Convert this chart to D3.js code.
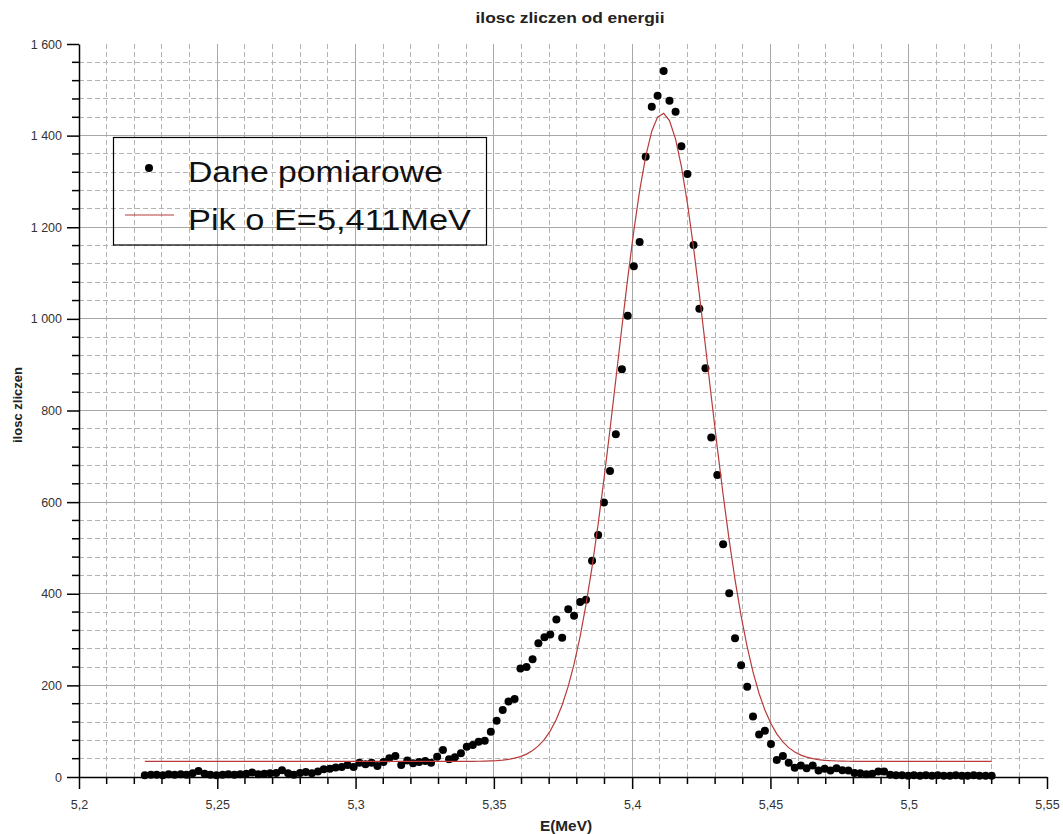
<!DOCTYPE html>
<html>
<head>
<meta charset="utf-8">
<script src="https://cdn.jsdelivr.net/npm/d3@7"></script>
<style>
  body { margin: 0; background: #fff; }
  svg { display: block; }
  text { font-family: "Liberation Sans", Arial, sans-serif; }
</style>
</head>
<body>
<svg id="chart" width="1063" height="834"></svg>
<script>
// Channel energies (MeV) of the measured spectrum
const energies = [
  5.2238, 5.2260, 5.2281, 5.2303, 5.2324, 5.2346, 5.2368, 5.2389, 5.2411, 5.2432,
  5.2454, 5.2475, 5.2497, 5.2519, 5.2540, 5.2562, 5.2583, 5.2605, 5.2626, 5.2648,
  5.2670, 5.2691, 5.2713, 5.2734, 5.2756, 5.2777, 5.2799, 5.2820, 5.2842, 5.2864,
  5.2885, 5.2907, 5.2928, 5.2950, 5.2971, 5.2993, 5.3014, 5.3036, 5.3058, 5.3079,
  5.3101, 5.3122, 5.3144, 5.3165, 5.3187, 5.3208, 5.3230, 5.3252, 5.3273, 5.3295,
  5.3316, 5.3338, 5.3359, 5.3381, 5.3402, 5.3424, 5.3445, 5.3467, 5.3489, 5.3510,
  5.3532, 5.3553, 5.3575, 5.3596, 5.3618, 5.3640, 5.3661, 5.3683, 5.3704, 5.3726,
  5.3747, 5.3769, 5.3790, 5.3812, 5.3833, 5.3855, 5.3877, 5.3898, 5.3920, 5.3941,
  5.3963, 5.3984, 5.4006, 5.4027, 5.4049, 5.4071, 5.4092, 5.4114, 5.4135, 5.4157,
  5.4178, 5.4200, 5.4222, 5.4243, 5.4265, 5.4286, 5.4308, 5.4329, 5.4351, 5.4372,
  5.4394, 5.4416, 5.4437, 5.4459, 5.4480, 5.4502, 5.4523, 5.4545, 5.4566, 5.4588,
  5.4610, 5.4631, 5.4653, 5.4674, 5.4696, 5.4717, 5.4739, 5.4760, 5.4782, 5.4804,
  5.4825, 5.4847, 5.4868, 5.4890, 5.4911, 5.4933, 5.4954, 5.4976, 5.4998, 5.5019,
  5.5041, 5.5062, 5.5084, 5.5105, 5.5127, 5.5149, 5.5170, 5.5192, 5.5213, 5.5235,
  5.5256, 5.5278, 5.5300
];

// Counts recorded in each channel
const counts = [
  4, 5, 5, 4, 6, 5, 6, 5, 8, 13,
  7, 5, 4, 5, 6, 5, 6, 7, 10, 6,
  7, 8, 9, 15, 8, 5, 9, 11, 8, 12,
  17, 18, 21, 22, 26, 22, 31, 28, 31, 24,
  33, 41, 46, 26, 36, 30, 33, 35, 31, 44,
  59, 39, 43, 52, 66, 70, 77, 79, 99, 123,
  146, 165, 170, 237, 240, 257, 292, 305, 311, 344,
  304, 366, 352, 382, 387, 472, 528, 599, 668, 748,
  890, 1007, 1115, 1168, 1354, 1463, 1487, 1541, 1476, 1452,
  1377, 1316, 1161, 1022, 892, 741, 659, 508, 401, 303,
  244, 197, 132, 93, 101, 72, 37, 46, 31, 20,
  25, 19, 25, 14, 18, 14, 19, 15, 14, 9,
  8, 6, 7, 12, 12, 5, 4, 4, 3, 4,
  3, 4, 3, 4, 3, 3, 4, 3, 3, 4,
  3, 3, 3
];

// Gaussian peak fit: baseline + height * exp(-(E - center)^2 / (2 sigma^2))
const fitCenter = 5.411;
const fitSigma = 0.01643;
const fitHeight = 1415;
const fitBaseline = 34;

const xTickValues = [5.2, 5.25, 5.3, 5.35, 5.4, 5.45, 5.5, 5.55];
const yTickValues = [0, 200, 400, 600, 800, 1000, 1200, 1400, 1600];

const titleText = "ilosc zliczen od energii";
const xLabelText = "E(MeV)";
const yLabelText = "ilosc zliczen";
const legendLabels = ["Dane pomiarowe", "Pik o E=5,411MeV"];

const svg = d3.select("#chart");
const plot = { left: 79, right: 1047, top: 44, bottom: 777 };

const x = d3.scaleLinear().domain([5.2, 5.55]).range([plot.left, plot.right]);
const y = d3.scaleLinear().domain([0, 1600]).range([plot.bottom, plot.top]);

const locale = d3.formatLocale({ decimal: ",", thousands: " ", grouping: [3], currency: ["", ""] });
const fmtX = locale.format(".2~f");
const fmtY = locale.format(",d");

const xMinor = d3.range(5.2, 5.5501, 0.01).filter(v => !xTickValues.some(t => Math.abs(t - v) < 1e-6));
const yMinor = d3.range(0, 1600.1, 40).filter(v => v % 200 !== 0);

// Grid
const grid = svg.append("g");
grid.selectAll(".vminor").data(xMinor).join("line")
  .attr("x1", d => x(d)).attr("x2", d => x(d))
  .attr("y1", plot.top).attr("y2", plot.bottom)
  .attr("stroke", "#b4b4b4").attr("stroke-width", 1).attr("stroke-dasharray", "5,3")
  .attr("shape-rendering", "crispEdges");
grid.selectAll(".hminor").data(yMinor).join("line")
  .attr("x1", plot.left).attr("x2", plot.right)
  .attr("y1", d => y(d)).attr("y2", d => y(d))
  .attr("stroke", "#b4b4b4").attr("stroke-width", 1).attr("stroke-dasharray", "5,3")
  .attr("shape-rendering", "crispEdges");
grid.selectAll(".vmajor").data(xTickValues.slice(1, -1)).join("line")
  .attr("x1", d => x(d)).attr("x2", d => x(d))
  .attr("y1", plot.top).attr("y2", plot.bottom)
  .attr("stroke", "#a8a8a8").attr("stroke-width", 1)
  .attr("shape-rendering", "crispEdges");
grid.selectAll(".hmajor").data(yTickValues.slice(1, -1)).join("line")
  .attr("x1", plot.left).attr("x2", plot.right)
  .attr("y1", d => y(d)).attr("y2", d => y(d))
  .attr("stroke", "#a8a8a8").attr("stroke-width", 1)
  .attr("shape-rendering", "crispEdges");

// Axes
const xAxis = d3.axisBottom(x).tickValues(xTickValues).tickFormat(fmtX).tickSize(12).tickSizeOuter(0);
const yAxis = d3.axisLeft(y).tickValues(yTickValues).tickFormat(fmtY).tickSize(12).tickSizeOuter(0);

const gx = svg.append("g").attr("transform", `translate(0,${plot.bottom})`).call(xAxis);
const gy = svg.append("g").attr("transform", `translate(${plot.left},0)`).call(yAxis);

[gx, gy].forEach(g => {
  g.select(".domain").attr("stroke", "#000").attr("stroke-width", 1.5);
  g.selectAll(".tick line").attr("stroke", "#000").attr("stroke-width", 1.5);
  g.selectAll(".tick text")
    .attr("font-family", "'Liberation Sans', Arial, sans-serif")
    .attr("font-size", 12.5).attr("fill", "#333");
});
gx.selectAll(".tick text").attr("dy", 0).attr("y", 32);
gy.selectAll(".tick text").attr("x", -17);

// Minor ticks
svg.append("g").selectAll("line").data(xMinor).join("line")
  .attr("x1", d => x(d)).attr("x2", d => x(d))
  .attr("y1", plot.bottom).attr("y2", plot.bottom + 7)
  .attr("stroke", "#000").attr("stroke-width", 1.5);
svg.append("g").selectAll("line").data(yMinor).join("line")
  .attr("x1", plot.left - 7).attr("x2", plot.left)
  .attr("y1", d => y(d)).attr("y2", d => y(d))
  .attr("stroke", "#000").attr("stroke-width", 1.5);

// Measured points
const points = energies.map((e, i) => ({ e, c: counts[i] }));
svg.append("g").selectAll("circle").data(points).join("circle")
  .attr("cx", d => x(d.e)).attr("cy", d => y(d.c)).attr("r", 4)
  .attr("fill", "#000");

// Fitted peak
const fit = e => fitBaseline + fitHeight * Math.exp(-((e - fitCenter) ** 2) / (2 * fitSigma * fitSigma));
const line = d3.line().x(d => x(d)).y(d => y(fit(d)));
svg.append("path").datum(energies)
  .attr("d", line).attr("fill", "none")
  .attr("stroke", "#b83a3a").attr("stroke-width", 1.2);

// Title and axis labels
svg.append("text").attr("x", 570).attr("y", 23).attr("text-anchor", "middle")
  .attr("font-size", 15).attr("font-weight", "bold").attr("fill", "#222")
  .attr("textLength", 189).attr("lengthAdjust", "spacingAndGlyphs")
  .text(titleText);
svg.append("text").attr("x", 566).attr("y", 831).attr("text-anchor", "middle")
  .attr("font-size", 14).attr("font-weight", "bold").attr("fill", "#222")
  .attr("textLength", 52).attr("lengthAdjust", "spacingAndGlyphs")
  .text(xLabelText);
svg.append("text").attr("transform", "translate(22,405) rotate(-90)")
  .attr("text-anchor", "middle")
  .attr("font-size", 12.5).attr("font-weight", "bold").attr("fill", "#222")
  .attr("textLength", 76).attr("lengthAdjust", "spacingAndGlyphs")
  .text(yLabelText);

// Legend
const lg = svg.append("g");
lg.append("rect").attr("x", 113.5).attr("y", 137.5).attr("width", 373).attr("height", 107.5)
  .attr("fill", "none").attr("stroke", "#000").attr("stroke-width", 1.2);
lg.append("circle").attr("cx", 149).attr("cy", 168).attr("r", 4).attr("fill", "#000");
lg.append("line").attr("x1", 125).attr("x2", 174).attr("y1", 215).attr("y2", 215)
  .attr("stroke", "#b83a3a").attr("stroke-width", 1.2);
lg.selectAll("text").data(legendLabels).join("text")
  .attr("x", 188).attr("y", (d, i) => i === 0 ? 182 : 229.5)
  .attr("font-size", 30).attr("fill", "#111")
  .attr("textLength", (d, i) => i === 0 ? 255 : 283)
  .attr("lengthAdjust", "spacingAndGlyphs")
  .text(d => d);
</script>
</body>
</html>
